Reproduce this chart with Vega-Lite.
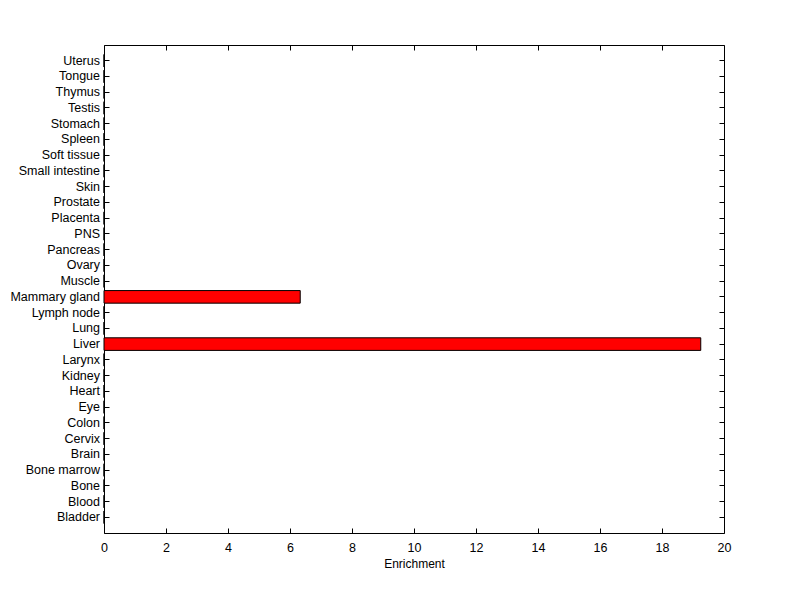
{
  "$schema": "https://vega.github.io/schema/vega-lite/v6.json",
  "width": 620,
  "height": 488,
  "autosize": {"type": "none"},
  "padding": {"left": 104, "top": 45, "right": 76, "bottom": 66},
  "background": "white",
  "config": {
    "view": {"stroke": null},
    "axis": {
      "labelFont": "Liberation Sans",
      "titleFont": "Liberation Sans",
      "labelFontSize": 12.5,
      "titleFontSize": 12,
      "titleFontWeight": "normal",
      "labelColor": "black",
      "titleColor": "black",
      "domainColor": "black",
      "tickColor": "black",
      "domainWidth": 1,
      "tickWidth": 1,
      "grid": false,
      "labelFlush": false
    }
  },
  "data": {
    "values": [
      {"tissue": "Uterus", "enrichment": 0},
      {"tissue": "Tongue", "enrichment": 0},
      {"tissue": "Thymus", "enrichment": 0},
      {"tissue": "Testis", "enrichment": 0},
      {"tissue": "Stomach", "enrichment": 0},
      {"tissue": "Spleen", "enrichment": 0},
      {"tissue": "Soft tissue", "enrichment": 0},
      {"tissue": "Small intestine", "enrichment": 0},
      {"tissue": "Skin", "enrichment": 0},
      {"tissue": "Prostate", "enrichment": 0},
      {"tissue": "Placenta", "enrichment": 0},
      {"tissue": "PNS", "enrichment": 0},
      {"tissue": "Pancreas", "enrichment": 0},
      {"tissue": "Ovary", "enrichment": 0},
      {"tissue": "Muscle", "enrichment": 0},
      {"tissue": "Mammary gland", "enrichment": 6.33},
      {"tissue": "Lymph node", "enrichment": 0},
      {"tissue": "Lung", "enrichment": 0},
      {"tissue": "Liver", "enrichment": 19.25},
      {"tissue": "Larynx", "enrichment": 0},
      {"tissue": "Kidney", "enrichment": 0},
      {"tissue": "Heart", "enrichment": 0},
      {"tissue": "Eye", "enrichment": 0},
      {"tissue": "Colon", "enrichment": 0},
      {"tissue": "Cervix", "enrichment": 0},
      {"tissue": "Brain", "enrichment": 0},
      {"tissue": "Bone marrow", "enrichment": 0},
      {"tissue": "Bone", "enrichment": 0},
      {"tissue": "Blood", "enrichment": 0},
      {"tissue": "Bladder", "enrichment": 0}
    ]
  },
  "encoding": {
    "y": {
      "field": "tissue",
      "type": "nominal",
      "sort": null,
      "scale": {"paddingInner": 0.2, "paddingOuter": 0.6}
    },
    "x": {
      "field": "enrichment",
      "type": "quantitative",
      "scale": {"domain": [0, 20], "nice": false}
    }
  },
  "layer": [
    {
      "mark": {"type": "bar", "color": "#ff0000", "stroke": "black", "strokeWidth": 1},
      "encoding": {
        "y": {"field": "tissue", "type": "nominal", "sort": null, "axis": {"orient": "left", "title": null, "tickSize": -5, "labelPadding": 9.5, "ticks": true}},
        "x": {"field": "enrichment", "type": "quantitative", "axis": {"orient": "bottom", "title": "Enrichment", "tickSize": -5, "labelPadding": 13.5, "values": [0,2,4,6,8,10,12,14,16,18,20], "titlePadding": 4}}
      }
    },
    {
      "mark": {"type": "bar", "opacity": 0},
      "encoding": {
        "y": {"field": "tissue", "type": "nominal", "sort": null, "axis": {"orient": "right", "title": null, "labels": false, "tickSize": -5}},
        "x": {"field": "enrichment", "type": "quantitative", "axis": {"orient": "top", "title": null, "labels": false, "tickSize": -5, "values": [0,2,4,6,8,10,12,14,16,18,20]}}
      }
    }
  ],
  "resolve": {"axis": {"x": "independent", "y": "independent"}}
}
